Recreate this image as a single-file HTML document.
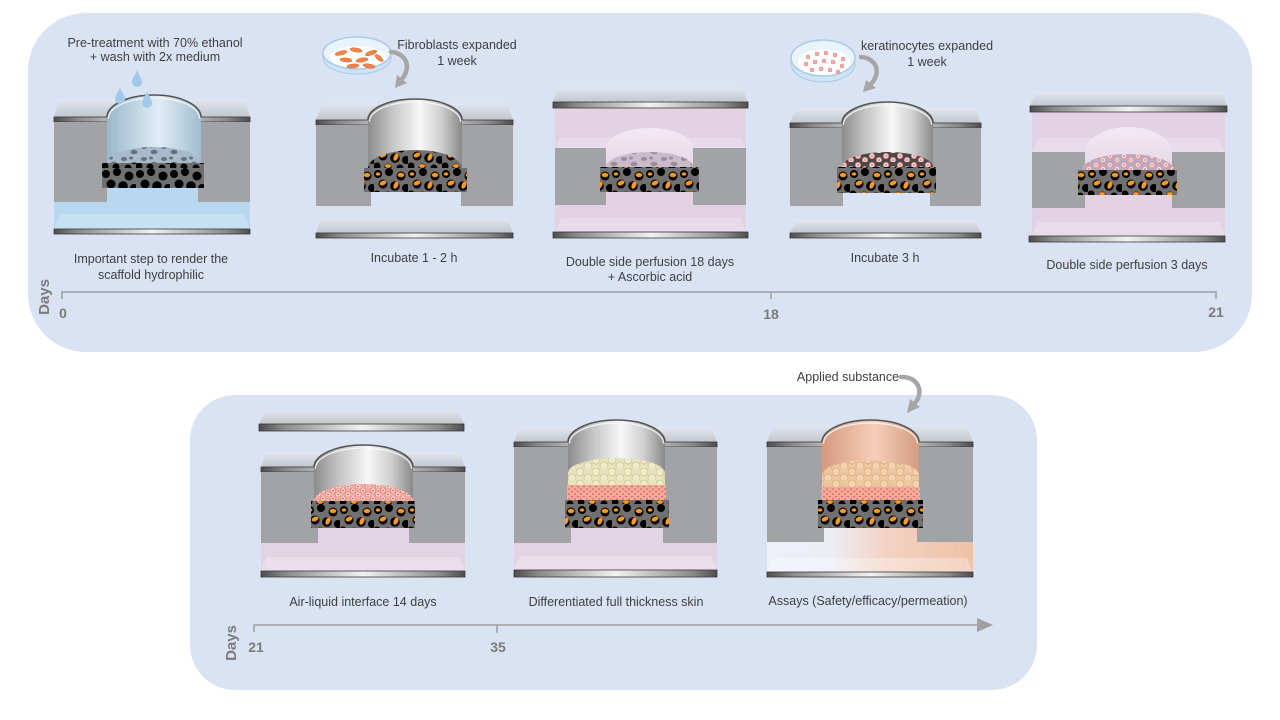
<!DOCTYPE html>
<html><head><meta charset="utf-8">
<style>
html,body{margin:0;padding:0;background:#fff;width:1280px;height:720px;overflow:hidden}
svg{display:block}
text{font-family:"Liberation Sans",sans-serif}
.lb{font-size:12.5px;fill:#3f3f3f;text-anchor:middle}
.tn{font-size:14px;font-weight:bold;fill:#7b7b7b;text-anchor:middle}
</style></head><body>
<svg width="1280" height="720" viewBox="0 0 1280 720" xmlns="http://www.w3.org/2000/svg">
<defs>
<linearGradient id="metal" x1="0" y1="0" x2="1" y2="0">
<stop offset="0" stop-color="#4d4d4d"/><stop offset=".12" stop-color="#8a8a8a"/><stop offset=".5" stop-color="#f2f2f2"/><stop offset=".88" stop-color="#8a8a8a"/><stop offset="1" stop-color="#4d4d4d"/>
</linearGradient>
<linearGradient id="face" x1="0" y1="0" x2="0" y2="1">
<stop offset="0" stop-color="#e2e7f1"/><stop offset="1" stop-color="#c3c6cd"/>
</linearGradient>
<linearGradient id="cyl" x1="0" y1="0" x2="1" y2="0">
<stop offset="0" stop-color="#8c8c8c"/><stop offset=".25" stop-color="#c4c4c4"/><stop offset=".55" stop-color="#f7f7f7"/><stop offset=".78" stop-color="#cfcfcf"/><stop offset="1" stop-color="#898989"/>
</linearGradient>
<linearGradient id="cylb" x1="0" y1="0" x2="1" y2="0">
<stop offset="0" stop-color="#9ab7cc"/><stop offset=".55" stop-color="#e0edf6"/><stop offset="1" stop-color="#a2bdd1"/>
</linearGradient>
<linearGradient id="cylp" x1="0" y1="0" x2="1" y2="0">
<stop offset="0" stop-color="#d69a7e"/><stop offset=".55" stop-color="#f7cfba"/><stop offset="1" stop-color="#d49b82"/>
</linearGradient>
<linearGradient id="pdome" x1="0" y1="0" x2="0" y2="1">
<stop offset="0" stop-color="#f3e9f3"/><stop offset="1" stop-color="#e6d8e7"/>
</linearGradient>
<linearGradient id="assayg" gradientUnits="userSpaceOnUse" x1="767" y1="0" x2="973" y2="0">
<stop offset="0" stop-color="#edf0f8"/><stop offset=".3" stop-color="#eceef6"/><stop offset=".58" stop-color="#f2d3c3"/><stop offset="1" stop-color="#efc1a7"/>
</linearGradient>
<pattern id="scaf" patternUnits="userSpaceOnUse" width="34" height="28">
<rect width="34" height="28" fill="#707070"/>
<g fill="#000"><circle cx="4" cy="6" r="4"/><circle cx="15" cy="4" r="4"/><circle cx="27" cy="8" r="4.5"/><circle cx="9" cy="16" r="4.5"/><circle cx="21" cy="18" r="4.8"/><circle cx="32" cy="20" r="4"/><circle cx="3" cy="26" r="3.5"/><circle cx="14" cy="27" r="3.5"/><circle cx="26" cy="28" r="3.5"/></g>
<g fill="#f39a2e" stroke="#8a4500" stroke-width=".4"><ellipse cx="9" cy="15" rx="3.6" ry="2.2" transform="rotate(-25 9 15)"/><ellipse cx="22" cy="17" rx="2.2" ry="4" transform="rotate(25 22 17)"/><ellipse cx="27" cy="7" rx="3.3" ry="2.2"/><ellipse cx="14" cy="26" rx="3" ry="2"/><ellipse cx="4" cy="6" rx="2.2" ry="1.6"/></g>
</pattern>
<pattern id="scafp" patternUnits="userSpaceOnUse" width="34" height="28">
<rect width="34" height="28" fill="#707070"/>
<g fill="#000"><circle cx="4" cy="6" r="4"/><circle cx="15" cy="4" r="4"/><circle cx="27" cy="8" r="4.5"/><circle cx="9" cy="16" r="4.5"/><circle cx="21" cy="18" r="4.8"/><circle cx="32" cy="20" r="4"/><circle cx="3" cy="26" r="3.5"/><circle cx="14" cy="27" r="3.5"/><circle cx="26" cy="28" r="3.5"/></g>
</pattern>
<pattern id="bdots" patternUnits="userSpaceOnUse" width="20" height="12">
<rect width="20" height="12" fill="#a8bacb"/>
<g fill="#66727e"><ellipse cx="4" cy="3" rx="3" ry="2"/><ellipse cx="14" cy="8" rx="3.5" ry="2.2"/><ellipse cx="11" cy="2" rx="2" ry="1.5"/></g>
</pattern>
<pattern id="pdots" patternUnits="userSpaceOnUse" width="20" height="12">
<rect width="20" height="12" fill="#c9bbca"/>
<g fill="#9b8e9c"><ellipse cx="4" cy="3" rx="3" ry="2"/><ellipse cx="14" cy="8" rx="3.5" ry="2.2"/><ellipse cx="11" cy="2" rx="2" ry="1.5"/></g>
</pattern>
<pattern id="kera" patternUnits="userSpaceOnUse" width="14" height="9">
<rect width="14" height="9" fill="#4a4a4a"/>
<g fill="#fbd8d8" stroke="#e8898a" stroke-width=".8"><circle cx="4" cy="3" r="2.6"/><circle cx="11" cy="7" r="2.6"/></g>
<g fill="#d04545"><circle cx="4" cy="3" r=".8"/><circle cx="11" cy="7" r=".8"/></g>
</pattern>
<pattern id="kera5" patternUnits="userSpaceOnUse" width="14" height="9">
<rect width="14" height="9" fill="#bda9be"/>
<g fill="#f8dede" stroke="#e39a9c" stroke-width=".8"><circle cx="4" cy="3" r="2.6"/><circle cx="11" cy="7" r="2.6"/></g>
<g fill="#d45a5a"><circle cx="4" cy="3" r=".8"/><circle cx="11" cy="7" r=".8"/></g>
</pattern>
<pattern id="kfull" patternUnits="userSpaceOnUse" width="10" height="8">
<rect width="10" height="8" fill="#f2aca4"/>
<g fill="#fbd6ce" stroke="#e27a70" stroke-width=".7"><circle cx="3" cy="2.5" r="2.7"/><circle cx="8" cy="6.5" r="2.7"/></g>
<g fill="#c83a3a"><circle cx="3" cy="2.5" r=".8"/><circle cx="8" cy="6.5" r=".8"/></g>
</pattern>
<pattern id="corn" patternUnits="userSpaceOnUse" width="16" height="12">
<rect width="16" height="12" fill="#e8e2bd"/>
<g fill="#efeacb" stroke="#cfc595" stroke-width=".8"><circle cx="4" cy="4" r="4"/><circle cx="12" cy="10" r="4"/></g>
</pattern>
<pattern id="cornp" patternUnits="userSpaceOnUse" width="16" height="12">
<rect width="16" height="12" fill="#edc7a0"/>
<g fill="#f2d2af" stroke="#d8ad80" stroke-width=".8"><circle cx="4" cy="4" r="4"/><circle cx="12" cy="10" r="4"/></g>
</pattern>
<pattern id="epi" patternUnits="userSpaceOnUse" width="6" height="5">
<rect width="6" height="5" fill="#f5ab9c"/>
<g fill="#d44a40"><circle cx="2" cy="1.5" r=".8"/><circle cx="5" cy="4" r=".8"/></g>
</pattern>
</defs>

<!-- panels -->
<rect x="28" y="13" width="1224" height="339" rx="58" fill="#dae3f3"/>
<rect x="190" y="395" width="847" height="295" rx="45" fill="#dae3f3"/>

<!-- D1 -->
<polygon points="54,117 250,117 244,99 60,99" fill="url(#face)"/>
<rect x="54" y="117" width="196" height="5" fill="url(#metal)" stroke="#3a3a3a" stroke-width=".8"/>
<rect x="54" y="122" width="53" height="80" fill="#a2a3a7"/>
<rect x="198" y="122" width="52" height="80" fill="#a2a3a7"/>
<rect x="54" y="202" width="196" height="27" fill="#b9d7ee"/>
<polygon points="54,229 250,229 244,214 60,214" fill="#c6e0f4"/>
<rect x="107" y="186" width="91" height="17" fill="#b9d7ee"/>
<path d="M107 163 L107 117 A47 22 0 0 1 201 117 L201 163 Z" fill="url(#cylb)"/>
<path d="M107 163 A47 16 0 0 1 201 163 Z" fill="url(#bdots)"/>
<rect x="102" y="163" width="102" height="25" fill="url(#scafp)"/>
<path d="M107 117 A47 22 0 0 1 201 117" fill="none" stroke="#555" stroke-width="1.6"/>
<path d="M108.5 118.5 A45.5 20.5 0 0 1 199.5 118.5" fill="none" stroke="#f5f5f5" stroke-width="1.2"/>
<rect x="54" y="229" width="196" height="5" fill="url(#metal)" stroke="#3a3a3a" stroke-width=".8"/>
<g fill="#a3c9e8">
<path d="M137 70 C138 74 142 78 142 82 A5 5 0 0 1 132 82 C132 78 136 74 137 70Z"/>
<path d="M120 87 C121 91 125 95 125 99 A5 5 0 0 1 115 99 C115 95 119 91 120 87Z"/>
<path d="M147 91 C148 95 152 99 152 103 A5 5 0 0 1 142 103 C142 99 146 95 147 91Z"/>
</g>

<!-- D2 -->
<polygon points="316,120 513,120 507,103 322,103" fill="url(#face)"/>
<rect x="316" y="120" width="197" height="5" fill="url(#metal)" stroke="#3a3a3a" stroke-width=".8"/>
<rect x="316" y="125" width="55" height="81" fill="#a2a3a7"/>
<rect x="461" y="125" width="52" height="81" fill="#a2a3a7"/>
<path d="M368 168 L368 120 A47 21 0 0 1 462 120 L462 168 Z" fill="url(#cyl)"/>
<path d="M368 168 A47 18 0 0 1 462 168 Z" fill="url(#scaf)"/>
<rect x="364" y="168" width="103" height="24" fill="url(#scaf)"/>
<path d="M368 120 A47 21 0 0 1 462 120" fill="none" stroke="#555" stroke-width="1.6"/>
<path d="M369.5 121.5 A45.5 19.5 0 0 1 460.5 121.5" fill="none" stroke="#f5f5f5" stroke-width="1.2"/>
<polygon points="316,233 513,233 507,218 322,218" fill="url(#face)"/>
<rect x="316" y="233" width="197" height="5" fill="url(#metal)" stroke="#3a3a3a" stroke-width=".8"/>

<!-- D3 -->
<polygon points="553,102 748,102 742,87 559,87" fill="url(#face)"/>
<rect x="555" y="108" width="191" height="124" fill="#e2d2e3"/>
<polygon points="555,148 746,148 740,138 561,138" fill="#e9dcea"/>
<rect x="555" y="148" width="51" height="57" fill="#a2a3a7"/>
<rect x="693" y="148" width="53" height="57" fill="#a2a3a7"/>
<path d="M606 167 L606 148 A43.5 20 0 0 1 693 148 L693 167Z" fill="url(#pdome)"/>
<path d="M606 167 A43.5 15 0 0 1 693 167Z" fill="url(#pdots)"/>
<rect x="600" y="167" width="99" height="25" fill="url(#scaf)"/>
<polygon points="555,232 746,232 740,218 561,218" fill="#e9dcea"/>
<rect x="553" y="102" width="195" height="6" fill="url(#metal)" stroke="#3a3a3a" stroke-width=".8"/>
<rect x="553" y="232" width="195" height="6" fill="url(#metal)" stroke="#3a3a3a" stroke-width=".8"/>

<!-- D4 -->
<polygon points="790,123 981,123 975,108 796,108" fill="url(#face)"/>
<rect x="790" y="123" width="191" height="5" fill="url(#metal)" stroke="#3a3a3a" stroke-width=".8"/>
<rect x="790" y="128" width="53" height="78" fill="#a2a3a7"/>
<rect x="930" y="128" width="51" height="78" fill="#a2a3a7"/>
<path d="M842 167 L842 123 A45.5 21 0 0 1 933 123 L933 167Z" fill="url(#cyl)"/>
<path d="M842 167 A45.5 15 0 0 1 933 167Z" fill="url(#kera)"/>
<rect x="837" y="167" width="99" height="26" fill="url(#scaf)"/>
<path d="M842 123 A45.5 21 0 0 1 933 123" fill="none" stroke="#555" stroke-width="1.6"/>
<path d="M843.5 124.5 A44 19.5 0 0 1 931.5 124.5" fill="none" stroke="#f5f5f5" stroke-width="1.2"/>
<polygon points="790,233 981,233 975,220 796,220" fill="url(#face)"/>
<rect x="790" y="233" width="191" height="5" fill="url(#metal)" stroke="#3a3a3a" stroke-width=".8"/>

<!-- D5 -->
<polygon points="1030,106 1227,106 1221,92 1036,92" fill="url(#face)"/>
<rect x="1032" y="112" width="193" height="124" fill="#e2d2e3"/>
<polygon points="1032,152 1225,152 1219,138 1038,138" fill="#e9dcea"/>
<rect x="1032" y="152" width="53" height="56" fill="#a2a3a7"/>
<rect x="1172" y="152" width="53" height="56" fill="#a2a3a7"/>
<path d="M1085 170 L1085 152 A43.5 25 0 0 1 1172 152 L1172 170Z" fill="url(#pdome)"/>
<path d="M1082 170 A46 16 0 0 1 1174 170Z" fill="url(#kera5)"/>
<rect x="1078" y="170" width="99" height="25" fill="url(#scaf)"/>
<polygon points="1032,236 1225,236 1219,222 1038,222" fill="#e9dcea"/>
<rect x="1030" y="106" width="197" height="6" fill="url(#metal)" stroke="#3a3a3a" stroke-width=".8"/>
<rect x="1029" y="236" width="196" height="6" fill="url(#metal)" stroke="#3a3a3a" stroke-width=".8"/>

<!-- dishes & arrows top -->
<ellipse cx="357" cy="58" rx="34" ry="16" fill="#cfe4f3" stroke="#a7cbe6" stroke-width="1"/>
<ellipse cx="357" cy="53" rx="34" ry="16" fill="#e9f3fa" stroke="#a7cbe6" stroke-width="1.5"/>
<ellipse cx="358" cy="57" rx="28" ry="11" fill="#fff"/>
<g fill="#f0844a" stroke="#e06a30" stroke-width=".5">
<ellipse cx="341" cy="53" rx="6" ry="2" transform="rotate(-15 341 53)"/>
<ellipse cx="356" cy="50" rx="6" ry="2" transform="rotate(10 356 50)"/>
<ellipse cx="371" cy="53" rx="6" ry="2" transform="rotate(-20 371 53)"/>
<ellipse cx="346" cy="60" rx="6" ry="2" transform="rotate(5 346 60)"/>
<ellipse cx="362" cy="60" rx="6" ry="2" transform="rotate(-10 362 60)"/>
<ellipse cx="379" cy="58" rx="5" ry="2" transform="rotate(40 379 58)"/>
<ellipse cx="353" cy="66" rx="6" ry="2" transform="rotate(-5 353 66)"/>
<ellipse cx="369" cy="66" rx="6" ry="2" transform="rotate(10 369 66)"/>
</g>
<ellipse cx="823" cy="64" rx="32" ry="18" fill="#cfe4f3" stroke="#a7cbe6" stroke-width="1"/>
<ellipse cx="823" cy="58" rx="32" ry="18" fill="#e9f3fa" stroke="#a7cbe6" stroke-width="1.5"/>
<ellipse cx="824" cy="62" rx="26" ry="13" fill="#fff"/>
<g fill="#f6b0b0" stroke="#e57070" stroke-width=".5">
<circle cx="808" cy="57" r="2"/><circle cx="817" cy="54" r="2"/><circle cx="826" cy="53" r="2"/><circle cx="835" cy="55" r="2"/><circle cx="843" cy="59" r="2"/>
<circle cx="806" cy="64" r="2"/><circle cx="815" cy="62" r="2"/><circle cx="824" cy="61" r="2"/><circle cx="833" cy="62" r="2"/><circle cx="842" cy="66" r="2"/>
<circle cx="812" cy="70" r="2"/><circle cx="821" cy="69" r="2"/><circle cx="830" cy="70" r="2"/><circle cx="838" cy="72" r="2"/>
</g>
<g fill="none" stroke="#a6a6a6" stroke-width="4.5" stroke-linecap="round">
<path d="M391 52 C406 53 412 67 402 79"/>
<path d="M861 57 C876 58 882 72 871 84"/>
<path d="M901 377 C917 376 925 391 915 403"/>
</g>
<g fill="#a6a6a6">
<polygon points="395,88 407,83 397,75"/>
<polygon points="863,92 876,88 866,80"/>
<polygon points="907,413 920,407 910,399"/>
</g>

<!-- top labels -->
<text class="lb" x="155" y="47">Pre-treatment with 70% ethanol</text>
<text class="lb" x="155" y="61">+ wash with 2x medium</text>
<text class="lb" x="457" y="49">Fibroblasts expanded</text>
<text class="lb" x="457" y="65">1 week</text>
<text class="lb" x="927" y="50">keratinocytes expanded</text>
<text class="lb" x="927" y="66">1 week</text>
<text class="lb" x="151" y="263">Important step to render the</text>
<text class="lb" x="151" y="279">scaffold hydrophilic</text>
<text class="lb" x="414" y="262">Incubate 1 - 2 h</text>
<text class="lb" x="650" y="266">Double side perfusion 18 days</text>
<text class="lb" x="650" y="281">+ Ascorbic acid</text>
<text class="lb" x="885" y="262">Incubate 3 h</text>
<text class="lb" x="1127" y="269">Double side perfusion 3 days</text>

<!-- top timeline -->
<g stroke="#a0a0a0" stroke-width="1.6" fill="none">
<path d="M62 299 L62 292 L1216 292 L1216 299"/>
<path d="M771 292 L771 299"/>
</g>
<text class="tn" x="63" y="318">0</text>
<text class="tn" x="771" y="319">18</text>
<text class="tn" x="1216" y="317">21</text>
<text class="tn" transform="translate(49,297) rotate(-90)" style="font-size:15px">Days</text>

<!-- D6 -->
<polygon points="259,424 464,424 458,410 265,410" fill="url(#face)"/>
<rect x="259" y="424" width="205" height="7" fill="url(#metal)" stroke="#3a3a3a" stroke-width=".8"/>
<polygon points="261,467 465,467 459,452 267,452" fill="url(#face)"/>
<rect x="261" y="467" width="204" height="5" fill="url(#metal)" stroke="#3a3a3a" stroke-width=".8"/>
<rect x="261" y="472" width="57" height="71" fill="#a2a3a7"/>
<rect x="409" y="472" width="56" height="71" fill="#a2a3a7"/>
<rect x="261" y="543" width="204" height="28" fill="#e3d4e4"/>
<rect x="318" y="526" width="91" height="18" fill="#e3d4e4"/>
<polygon points="261,571 465,571 459,557 267,557" fill="#eadeeb"/>
<path d="M314 501 L314 467 A49.5 22 0 0 1 413 467 L413 501Z" fill="url(#cyl)"/>
<path d="M314 501 A49.5 17 0 0 1 413 501Z" fill="url(#kfull)"/>
<rect x="311" y="501" width="104" height="27" fill="url(#scaf)"/>
<path d="M314 467 A49.5 22 0 0 1 413 467" fill="none" stroke="#555" stroke-width="1.6"/>
<path d="M315.5 468.5 A48 20.5 0 0 1 411.5 468.5" fill="none" stroke="#f5f5f5" stroke-width="1.2"/>
<rect x="261" y="571" width="204" height="6" fill="url(#metal)" stroke="#3a3a3a" stroke-width=".8"/>

<!-- D7 -->
<polygon points="514,442 717,442 711,427 520,427" fill="url(#face)"/>
<rect x="514" y="442" width="203" height="5" fill="url(#metal)" stroke="#3a3a3a" stroke-width=".8"/>
<rect x="514" y="447" width="57" height="96" fill="#a2a3a7"/>
<rect x="663" y="447" width="54" height="96" fill="#a2a3a7"/>
<rect x="514" y="543" width="203" height="27" fill="#e3d4e4"/>
<rect x="571" y="526" width="92" height="18" fill="#e3d4e4"/>
<polygon points="514,570 717,570 711,556 520,556" fill="#eadeeb"/>
<path d="M568 500 L568 442 A48.5 22 0 0 1 665 442 L665 500Z" fill="url(#cyl)"/>
<path d="M568 486 L568 473 A48.5 15 0 0 1 665 473 L665 486Z" fill="url(#corn)"/>
<rect x="567" y="485" width="99" height="16" fill="url(#epi)"/>
<rect x="565" y="500" width="104" height="28" fill="url(#scaf)"/>
<path d="M568 442 A48.5 22 0 0 1 665 442" fill="none" stroke="#555" stroke-width="1.6"/>
<path d="M569.5 443.5 A47 20.5 0 0 1 663.5 443.5" fill="none" stroke="#f5f5f5" stroke-width="1.2"/>
<rect x="514" y="570" width="203" height="7" fill="url(#metal)" stroke="#3a3a3a" stroke-width=".8"/>

<!-- D8 -->
<polygon points="767,442 973,442 967,425 773,425" fill="url(#face)"/>
<rect x="767" y="442" width="206" height="5" fill="url(#metal)" stroke="#3a3a3a" stroke-width=".8"/>
<rect x="767" y="447" width="57" height="95" fill="#a2a3a7"/>
<rect x="917" y="447" width="56" height="95" fill="#a2a3a7"/>
<rect x="767" y="542" width="206" height="30" fill="url(#assayg)"/>
<rect x="824" y="526" width="93" height="17" fill="url(#assayg)"/>
<polygon points="767,572 973,572 967,558 773,558" fill="#ffffff" opacity=".3"/>
<path d="M822 500 L822 442 A48.5 22 0 0 1 919 442 L919 500Z" fill="url(#cylp)"/>
<path d="M822 488 L822 475 A48.5 15 0 0 1 919 475 L919 488Z" fill="url(#cornp)"/>
<rect x="821" y="487" width="99" height="15" fill="url(#epi)"/>
<rect x="818" y="500" width="105" height="28" fill="url(#scaf)"/>
<path d="M822 442 A48.5 22 0 0 1 919 442" fill="none" stroke="#555" stroke-width="1.6"/>
<path d="M823.5 443.5 A47 20.5 0 0 1 917.5 443.5" fill="none" stroke="#f5f5f5" stroke-width="1.2"/>
<rect x="767" y="572" width="206" height="5" fill="url(#metal)" stroke="#3a3a3a" stroke-width=".8"/>

<!-- bottom labels -->
<text class="lb" x="848" y="381">Applied substance</text>
<text class="lb" x="363" y="606">Air-liquid interface 14 days</text>
<text class="lb" x="616" y="606">Differentiated full thickness skin</text>
<text class="lb" x="868" y="605">Assays (Safety/efficacy/permeation)</text>

<!-- bottom timeline -->
<g stroke="#a0a0a0" stroke-width="1.6" fill="none">
<path d="M254 632 L254 625 L980 625"/>
<path d="M497 625 L497 633"/>
</g>
<polygon points="977,618 993,625 977,632" fill="#a0a0a0"/>
<text class="tn" x="256" y="652">21</text>
<text class="tn" x="498" y="652">35</text>
<text class="tn" transform="translate(236,643) rotate(-90)" style="font-size:15px">Days</text>
</svg>
</body></html>
